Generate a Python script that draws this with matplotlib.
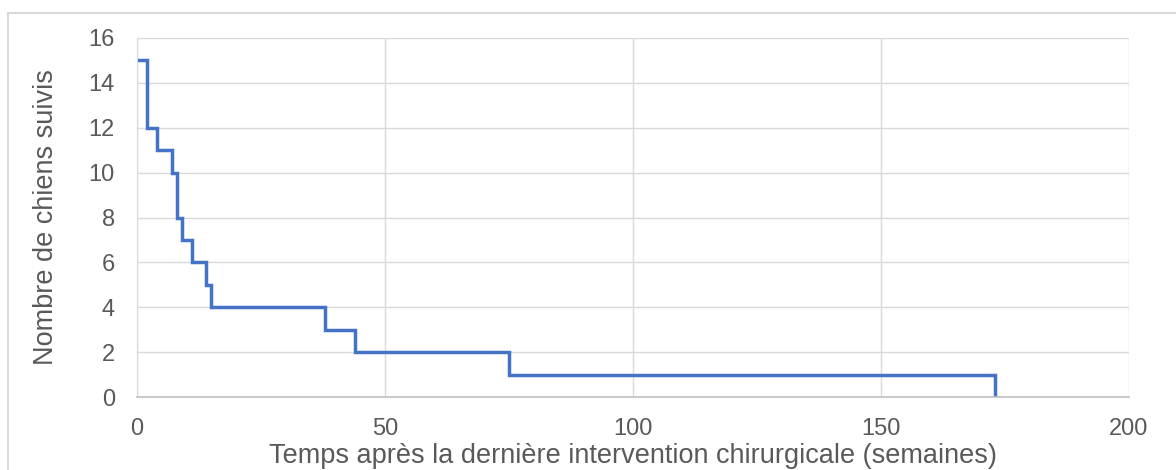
import matplotlib
matplotlib.use("Agg")
import matplotlib.pyplot as plt
from matplotlib.patches import Rectangle

# weeks since last surgery, dogs still followed
weeks = [0, 2, 4, 7, 8, 9, 11, 14, 15, 38, 44, 75, 173]
dogs = [15, 12, 11, 10, 8, 7, 6, 5, 4, 3, 2, 1, 0]
x_ticks = [0, 50, 100, 150, 200]
y_ticks = [0, 2, 4, 6, 8, 10, 12, 14, 16]

plt.rcParams['font.family'] = ['Liberation Sans', 'DejaVu Sans']
txt = '#595959'

fig = plt.figure(figsize=(11.76, 4.70), dpi=100)
fig.patches.append(Rectangle((8 / 1176, -0.1), 1.2, 1 - 13 / 470 + 0.1,
                             transform=fig.transFigure, fill=False,
                             edgecolor='#D9D9D9', linewidth=1.5))
ax = fig.add_axes([137 / 1176, 73 / 470, (1129 - 137) / 1176, (397 - 38) / 470])

ax.plot(weeks, dogs, drawstyle='steps-post', color='#4472C4', linewidth=2.5,
        solid_joinstyle='miter')

ax.set_xlim(0, 200)
ax.set_ylim(0, 16)
ax.set_xticks(x_ticks)
ax.set_yticks(y_ticks)
ax.grid(True, color='#D9D9D9', linewidth=1)
ax.set_axisbelow(True)
for s in ['top', 'right']:
    ax.spines[s].set_visible(False)
ax.spines['left'].set_color('#D9D9D9')
ax.spines['bottom'].set_color('#BFBFBF')
ax.spines['bottom'].set_linewidth(1.2)
ax.tick_params(length=0, labelsize=17, labelcolor=txt)
ax.tick_params(axis='x', pad=15)
ax.tick_params(axis='y', pad=16)

ax.set_xlabel("Temps après la dernière intervention chirurgicale (semaines)",
              fontsize=19.5, color=txt, labelpad=2)
ax.set_ylabel("Nombre de chiens suivis", fontsize=19.5, color=txt, labelpad=21)

fig.savefig("out.png", dpi=100)
